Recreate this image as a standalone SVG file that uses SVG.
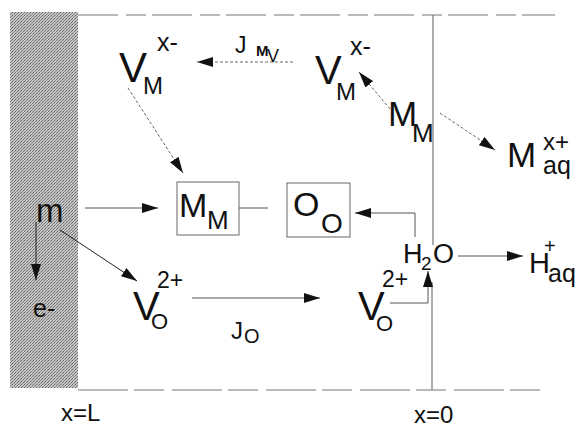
<svg xmlns="http://www.w3.org/2000/svg" width="578" height="427" viewBox="0 0 578 427">
<defs>
<style>
text{font-family:"Liberation Sans",Arial,sans-serif;fill:#111}
.ln{stroke:#555;stroke-width:1;fill:none}
.dl{stroke:#666;stroke-width:1;fill:none;stroke-dasharray:3,2}
.sl{stroke:#222;stroke-width:1;fill:none}
.bx{stroke:#666;stroke-width:1;fill:none}
.fr{stroke:#777;stroke-width:1.2;fill:none}
</style>
<marker id="ah" viewBox="0 0 16 10" refX="16" refY="5" markerWidth="16" markerHeight="10" orient="auto" markerUnits="userSpaceOnUse"><path d="M0,0 L16,5 L0,10 z" fill="#111"/></marker>
<pattern id="stip" width="3" height="3" patternUnits="userSpaceOnUse"><rect width="3" height="3" fill="#c4c4c4"/><rect x="0" y="0" width="1" height="1" fill="#666"/><rect x="2" y="1" width="1" height="1" fill="#777"/><rect x="1" y="2" width="1" height="1" fill="#888"/></pattern>
</defs>
<rect x="0" y="0" width="578" height="427" fill="#fff"/>
<g id="metal"><rect x="10" y="12" width="68" height="376" fill="url(#stip)"/></g>
<g id="frame">
<path class="fr" d="M78,15 H555" stroke-dasharray="40,8,20,6"/>
<path class="fr" d="M78,390 H548" stroke-dasharray="50,6,30,8"/>
<path class="fr" d="M433,15 V245 M432,282 V390"/>
</g>
<g id="connectors">
<path class="dl" d="M293,62 H197" marker-end="url(#ah)"/>
<path class="dl" d="M128,88 L183,173" marker-end="url(#ah)"/>
<path class="dl" d="M390,109 L359,72" marker-end="url(#ah)"/>
<path class="dl" d="M440,113 L495,150" marker-end="url(#ah)"/>
<path class="ln" d="M85,208 H158" marker-end="url(#ah)"/>
<path class="sl" d="M36,222 V280" marker-end="url(#ah)"/>
<path class="sl" d="M60,230 L137,281" marker-end="url(#ah)"/>
<path class="ln" d="M192,298 H320" marker-end="url(#ah)"/>
<path class="ln" d="M239,208 H268"/>
<path class="ln" d="M415,237 V213 H355" marker-end="url(#ah)"/>
<path class="ln" d="M458,256 H523" marker-end="url(#ah)"/>
<path class="ln" d="M390,303 H428 V271" marker-end="url(#ah)"/>
</g>
<g id="VM-left"><text x="119" y="82" font-size="42">V</text><text x="143" y="94" font-size="24">M</text><text x="157" y="51" font-size="25">x-</text></g>
<g id="JMv"><text x="235" y="53" font-size="23">J</text><text x="256" y="56" font-size="15" font-weight="bold">M</text><text x="267" y="62" font-size="18">V</text></g>
<g id="VM-right"><text x="315" y="84" font-size="40">V</text><text x="336" y="100" font-size="24">M</text><text x="350" y="55" font-size="25">x-</text></g>
<g id="MM-right"><text x="388" y="126" font-size="35">M</text><text x="412" y="142" font-size="26">M</text></g>
<g id="Maq"><text x="507" y="167" font-size="35">M</text><text x="543" y="150" font-size="24">x+</text><text x="543" y="174" font-size="25">aq</text></g>
<g id="m"><text x="36" y="222" font-size="33">m</text></g>
<g id="e"><text x="33" y="317" font-size="25">e-</text></g>
<g id="MM-box"><rect class="bx" x="177" y="182" width="62" height="53"/><text x="179" y="217" font-size="34">M</text><text x="207" y="229" font-size="26">M</text></g>
<g id="OO-box"><rect class="bx" x="287" y="183" width="63" height="54"/><text x="293" y="216" font-size="34">O</text><text x="321" y="233" font-size="28">O</text></g>
<g id="VO-left"><text x="133" y="320" font-size="40">V</text><text x="151" y="329" font-size="22">O</text><text x="157" y="288" font-size="23">2+</text></g>
<g id="JO"><text x="231" y="339" font-size="24">J</text><text x="244" y="343" font-size="20">O</text></g>
<g id="VO-right"><text x="358" y="320" font-size="40">V</text><text x="376" y="331" font-size="22">O</text><text x="382" y="287" font-size="23">2+</text></g>
<g id="H2O"><text x="403" y="263" font-size="27">H</text><text x="421" y="270" font-size="19">2</text><text x="433" y="263" font-size="27">O</text></g>
<g id="Haq"><text x="529" y="273" font-size="29">H</text><text x="544" y="253" font-size="20">+</text><text x="548" y="282" font-size="25">aq</text></g>
<g id="xL"><text x="61" y="421" font-size="24">x=L</text></g>
<g id="x0"><text x="414" y="423" font-size="24">x=0</text></g>
</svg>
